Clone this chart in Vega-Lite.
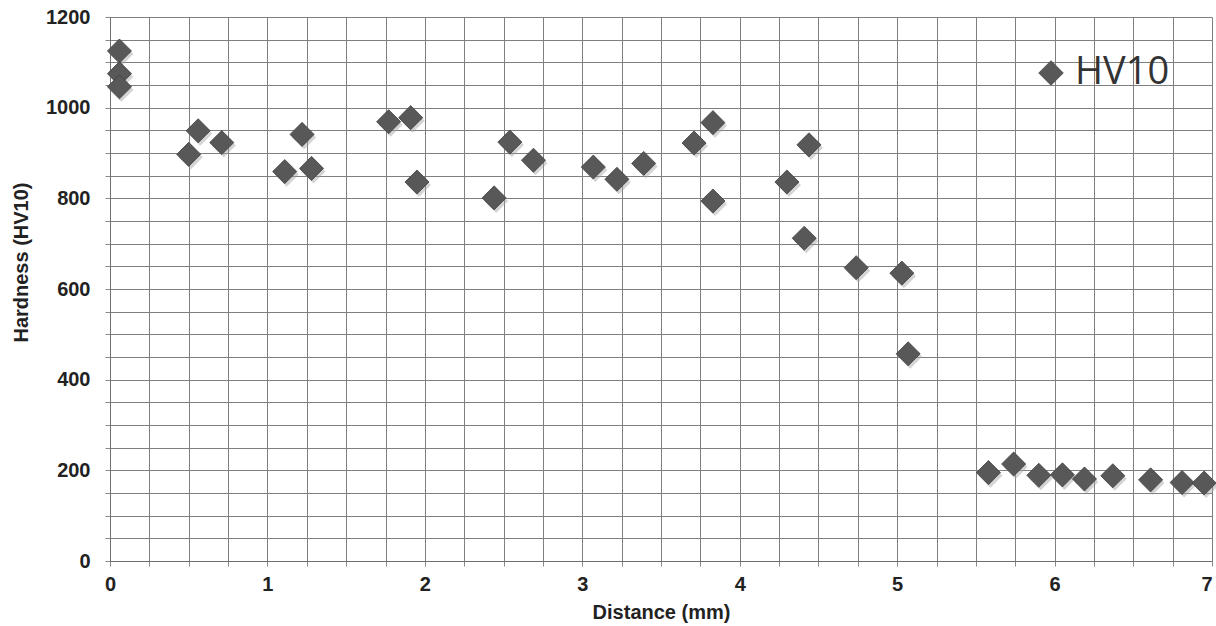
{
  "$schema": "https://vega.github.io/schema/vega-lite/v6.json",
  "width": 1102,
  "height": 544,
  "autosize": "none",
  "padding": {"left": 110, "top": 17, "right": 4, "bottom": 65},
  "background": "white",
  "config": {"view": {"stroke": null}, "font": "Liberation Sans"},
  "data": {
    "values": [
      {"distance": 0.06, "hardness": 1125},
      {"distance": 0.06, "hardness": 1075},
      {"distance": 0.06, "hardness": 1046},
      {"distance": 0.50, "hardness": 897},
      {"distance": 0.56, "hardness": 949},
      {"distance": 0.71, "hardness": 923},
      {"distance": 1.11, "hardness": 859},
      {"distance": 1.22, "hardness": 941},
      {"distance": 1.28, "hardness": 866},
      {"distance": 1.77, "hardness": 969},
      {"distance": 1.91, "hardness": 978},
      {"distance": 1.95, "hardness": 836},
      {"distance": 2.44, "hardness": 801},
      {"distance": 2.54, "hardness": 924},
      {"distance": 2.69, "hardness": 884},
      {"distance": 3.07, "hardness": 869},
      {"distance": 3.22, "hardness": 842},
      {"distance": 3.39, "hardness": 877},
      {"distance": 3.71, "hardness": 922},
      {"distance": 3.83, "hardness": 967},
      {"distance": 3.83, "hardness": 794},
      {"distance": 4.30, "hardness": 836},
      {"distance": 4.44, "hardness": 918},
      {"distance": 4.41, "hardness": 712},
      {"distance": 4.74, "hardness": 647},
      {"distance": 5.03, "hardness": 635},
      {"distance": 5.07, "hardness": 457},
      {"distance": 5.58, "hardness": 195},
      {"distance": 5.74, "hardness": 214},
      {"distance": 5.90, "hardness": 189},
      {"distance": 6.05, "hardness": 190},
      {"distance": 6.19, "hardness": 181},
      {"distance": 6.37, "hardness": 188},
      {"distance": 6.61, "hardness": 179},
      {"distance": 6.81, "hardness": 173},
      {"distance": 6.95, "hardness": 172}
    ]
  },
  "encoding": {
    "x": {
      "field": "distance",
      "type": "quantitative",
      "scale": {"domain": [0, 7], "nice": false, "zero": true},
      "axis": {
        "title": "Distance (mm)",
        "values": [0,0.25,0.5,0.75,1,1.25,1.5,1.75,2,2.25,2.5,2.75,3,3.25,3.5,3.75,4,4.25,4.5,4.75,5,5.25,5.5,5.75,6,6.25,6.5,6.75,7],
        "labelExpr": "datum.value % 1 === 0 ? ('' + datum.value) : ''",
        "grid": true,
        "gridColor": "#7f7f7f",
        "gridOpacity": 1,
        "gridWidth": 1,
        "domainColor": "#6f6f6f",
        "tickColor": "#888888",
        "tickSize": 5,
        "labelFont": "Liberation Sans",
        "labelFontWeight": "bold",
        "labelFontSize": 20,
        "labelColor": "#222222",
        "labelPadding": 8,
        "labelFlush": false,
        "labelOverlap": false,
        "labelAlign": {"condition": {"test": "datum.value === 7", "value": "right"}, "value": "center"},
        "titleFont": "Liberation Sans",
        "titleFontSize": 20,
        "titleFontWeight": "bold",
        "titleColor": "#222222",
        "titlePadding": 8
      }
    },
    "y": {
      "field": "hardness",
      "type": "quantitative",
      "scale": {"domain": [0, 1200], "nice": false},
      "axis": {
        "title": "Hardness (HV10)",
        "values": [0,50,100,150,200,250,300,350,400,450,500,550,600,650,700,750,800,850,900,950,1000,1050,1100,1150,1200],
        "labelExpr": "datum.value % 200 === 0 ? ('' + datum.value) : ''",
        "grid": true,
        "gridColor": "#7f7f7f",
        "gridOpacity": 1,
        "gridWidth": 1,
        "domainColor": "#6f6f6f",
        "tickColor": "#888888",
        "tickSize": 5,
        "labelFont": "Liberation Sans",
        "labelFontWeight": "bold",
        "labelFontSize": 20,
        "labelColor": "#222222",
        "labelPadding": 15,
        "labelFlush": false,
        "labelOverlap": false,
        "titleFont": "Liberation Sans",
        "titleFontSize": 20,
        "titleFontWeight": "bold",
        "titleColor": "#222222",
        "titleX": -89,
        "titleY": 245,
        "titleAlign": "center",
        "titleBaseline": "middle"
      }
    }
  },
  "layer": [
    {
      "mark": {"type": "point", "shape": "diamond", "filled": true, "size": 580, "color": "#a0a0a0", "opacity": 0.45, "xOffset": 2, "yOffset": 3}
    },
    {
      "mark": {"type": "point", "shape": "diamond", "filled": true, "size": 580, "opacity": 1, "stroke": "#404040", "strokeWidth": 0.8},
      "encoding": {
        "color": {
          "datum": "HV10",
          "type": "nominal",
          "scale": {"range": ["#585858"]},
          "legend": {
            "title": null,
            "orient": "none",
            "legendX": 922,
            "legendY": 37,
            "padding": 0,
            "symbolType": "diamond",
            "symbolSize": 650,
            "symbolStrokeWidth": 0,
            "symbolOpacity": 1,
            "labelFont": "Open Sans",
            "labelFontSize": 38,
            "labelColor": "#333333",
            "labelOffset": 5,
            "labelLimit": 300
          }
        }
      }
    }
  ]
}
